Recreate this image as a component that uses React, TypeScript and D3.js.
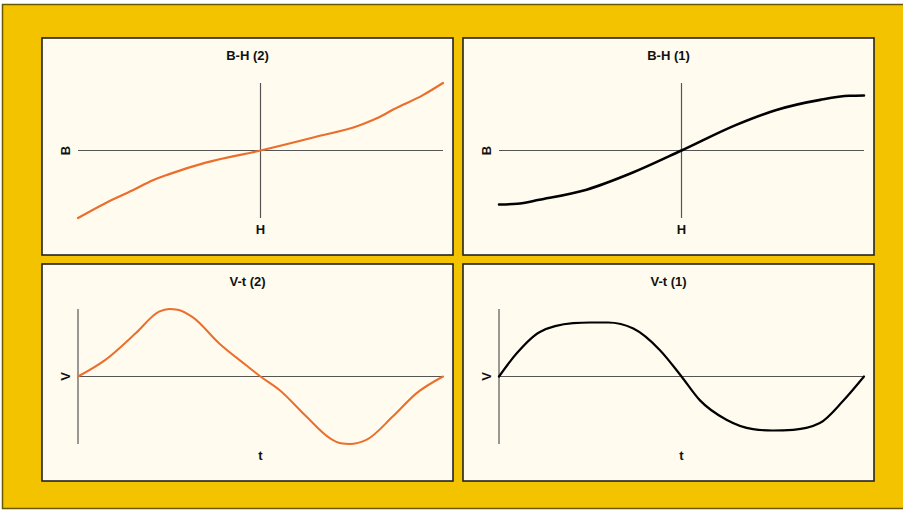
import React from 'react';
import * as d3 from 'd3';

// panel titles and axis labels
const titles = ['B-H (2)', 'B-H (1)', 'V-t (2)', 'V-t (1)'];
const xLabels = ['H', 'H', 't', 't'];
const yLabels = ['B', 'B', 'V', 'V'];

// B-H (2): soft, nearly linear magnetisation curve
const bh2H = [-1, -0.85, -0.7, -0.59, -0.5, -0.3, 0, 0.3, 0.54, 0.64, 0.73, 0.89, 1];
const bh2B = [-1, -0.78, -0.59, -0.44, -0.35, -0.18, 0, 0.2, 0.37, 0.48, 0.61, 0.82, 1];

// B-H (1): saturating curve
const bh1H = [-1, -0.9, -0.78, -0.52, -0.27, 0, 0.3, 0.52, 0.76, 0.92, 1];
const bh1B = [-0.8, -0.79, -0.73, -0.58, -0.33, 0, 0.38, 0.6, 0.75, 0.81, 0.815];

// V-t (2)
const vt2T = [0, 0.076, 0.158, 0.222, 0.25, 0.273, 0.314, 0.387, 0.46, 0.5, 0.552, 0.625, 0.689, 0.72, 0.744, 0.79, 0.863, 0.927, 1];
const vt2V = [0, 0.25, 0.64, 0.96, 1.0, 0.99, 0.88, 0.49, 0.17, 0, -0.2, -0.59, -0.91, -0.99, -1.0, -0.94, -0.59, -0.25, 0];

// V-t (1)
const vt1T = [0, 0.048, 0.112, 0.203, 0.25, 0.299, 0.368, 0.441, 0.5, 0.55, 0.623, 0.696, 0.75, 0.806, 0.879, 0.943, 1];
const vt1V = [0, 0.34, 0.66, 0.79, 0.8, 0.8, 0.71, 0.39, 0, -0.35, -0.64, -0.78, -0.8, -0.79, -0.69, -0.36, 0];

const panels = [
  { x: 42, y: 38, xs: bh2H, ys: bh2B, xDomain: [-1, 1], color: '#EC6E2C', width: 2.2 },
  { x: 463, y: 38, xs: bh1H, ys: bh1B, xDomain: [-1, 1], color: '#000000', width: 2.6 },
  { x: 42, y: 264, xs: vt2T, ys: vt2V, xDomain: [0, 1], color: '#EC6E2C', width: 2 },
  { x: 463, y: 264, xs: vt1T, ys: vt1V, xDomain: [0, 1], color: '#000000', width: 2.2 },
];

const PW = 411;
const PH = 217;
const font = 'Arial, "Liberation Sans", sans-serif';

const Panel = ({ p, i }: { p: any; i: number }) => {
  const left = 36;
  const right = 401;
  const top = 45;
  const bottom = 180;
  const x = d3.scaleLinear().domain(p.xDomain).range([left, right]);
  const y = d3.scaleLinear().domain([-1, 1]).range([bottom, top]);
  const pts: [number, number][] = p.xs.map((v: number, k: number) => [v, p.ys[k]]);
  const line = d3
    .line<[number, number]>()
    .x((d) => x(d[0]))
    .y((d) => y(d[1]))
    .curve(d3.curveMonotoneX);
  const x0 = x(p.xDomain[0] < 0 ? 0 : p.xDomain[0]);
  return (
    <g transform={`translate(${p.x},${p.y})`}>
      <rect x={0} y={0} width={PW} height={PH} fill="#FFFCEF" stroke="#222" strokeWidth={1.6} />
      <text x={PW / 2} y={22} textAnchor="middle" fontFamily={font} fontWeight="bold" fontSize={13} fill="#111">
        {titles[i]}
      </text>
      <line x1={left} x2={right} y1={y(0)} y2={y(0)} stroke="#555" strokeWidth={1.2} />
      <line x1={x0} x2={x0} y1={top} y2={bottom} stroke="#555" strokeWidth={1.2} />
      <text
        transform={`translate(${left - 8},${y(0)}) rotate(-90)`}
        textAnchor="middle"
        fontFamily={font}
        fontWeight="bold"
        fontSize={13}
        fill="#111"
      >
        {yLabels[i]}
      </text>
      <text x={(left + right) / 2} y={196} textAnchor="middle" fontFamily={font} fontWeight="bold" fontSize={13} fill="#111">
        {xLabels[i]}
      </text>
      <path d={line(pts) || ''} fill="none" stroke={p.color} strokeWidth={p.width} strokeLinejoin="round" strokeLinecap="round" />
    </g>
  );
};

export default function App() {
  return (
    <div style={{ position: 'fixed', left: 0, top: 0 }}>
      <svg width={903} height={510} style={{ display: 'block' }}>
        <rect x={0} y={0} width={903} height={510} fill="#FFFFFF" />
        <rect x={2.5} y={4.5} width={902} height={504} fill="#F3C300" stroke="#6A5800" strokeWidth={1.5} />
        {panels.map((p, i) => (
          <Panel key={i} p={p} i={i} />
        ))}
      </svg>
    </div>
  );
}
